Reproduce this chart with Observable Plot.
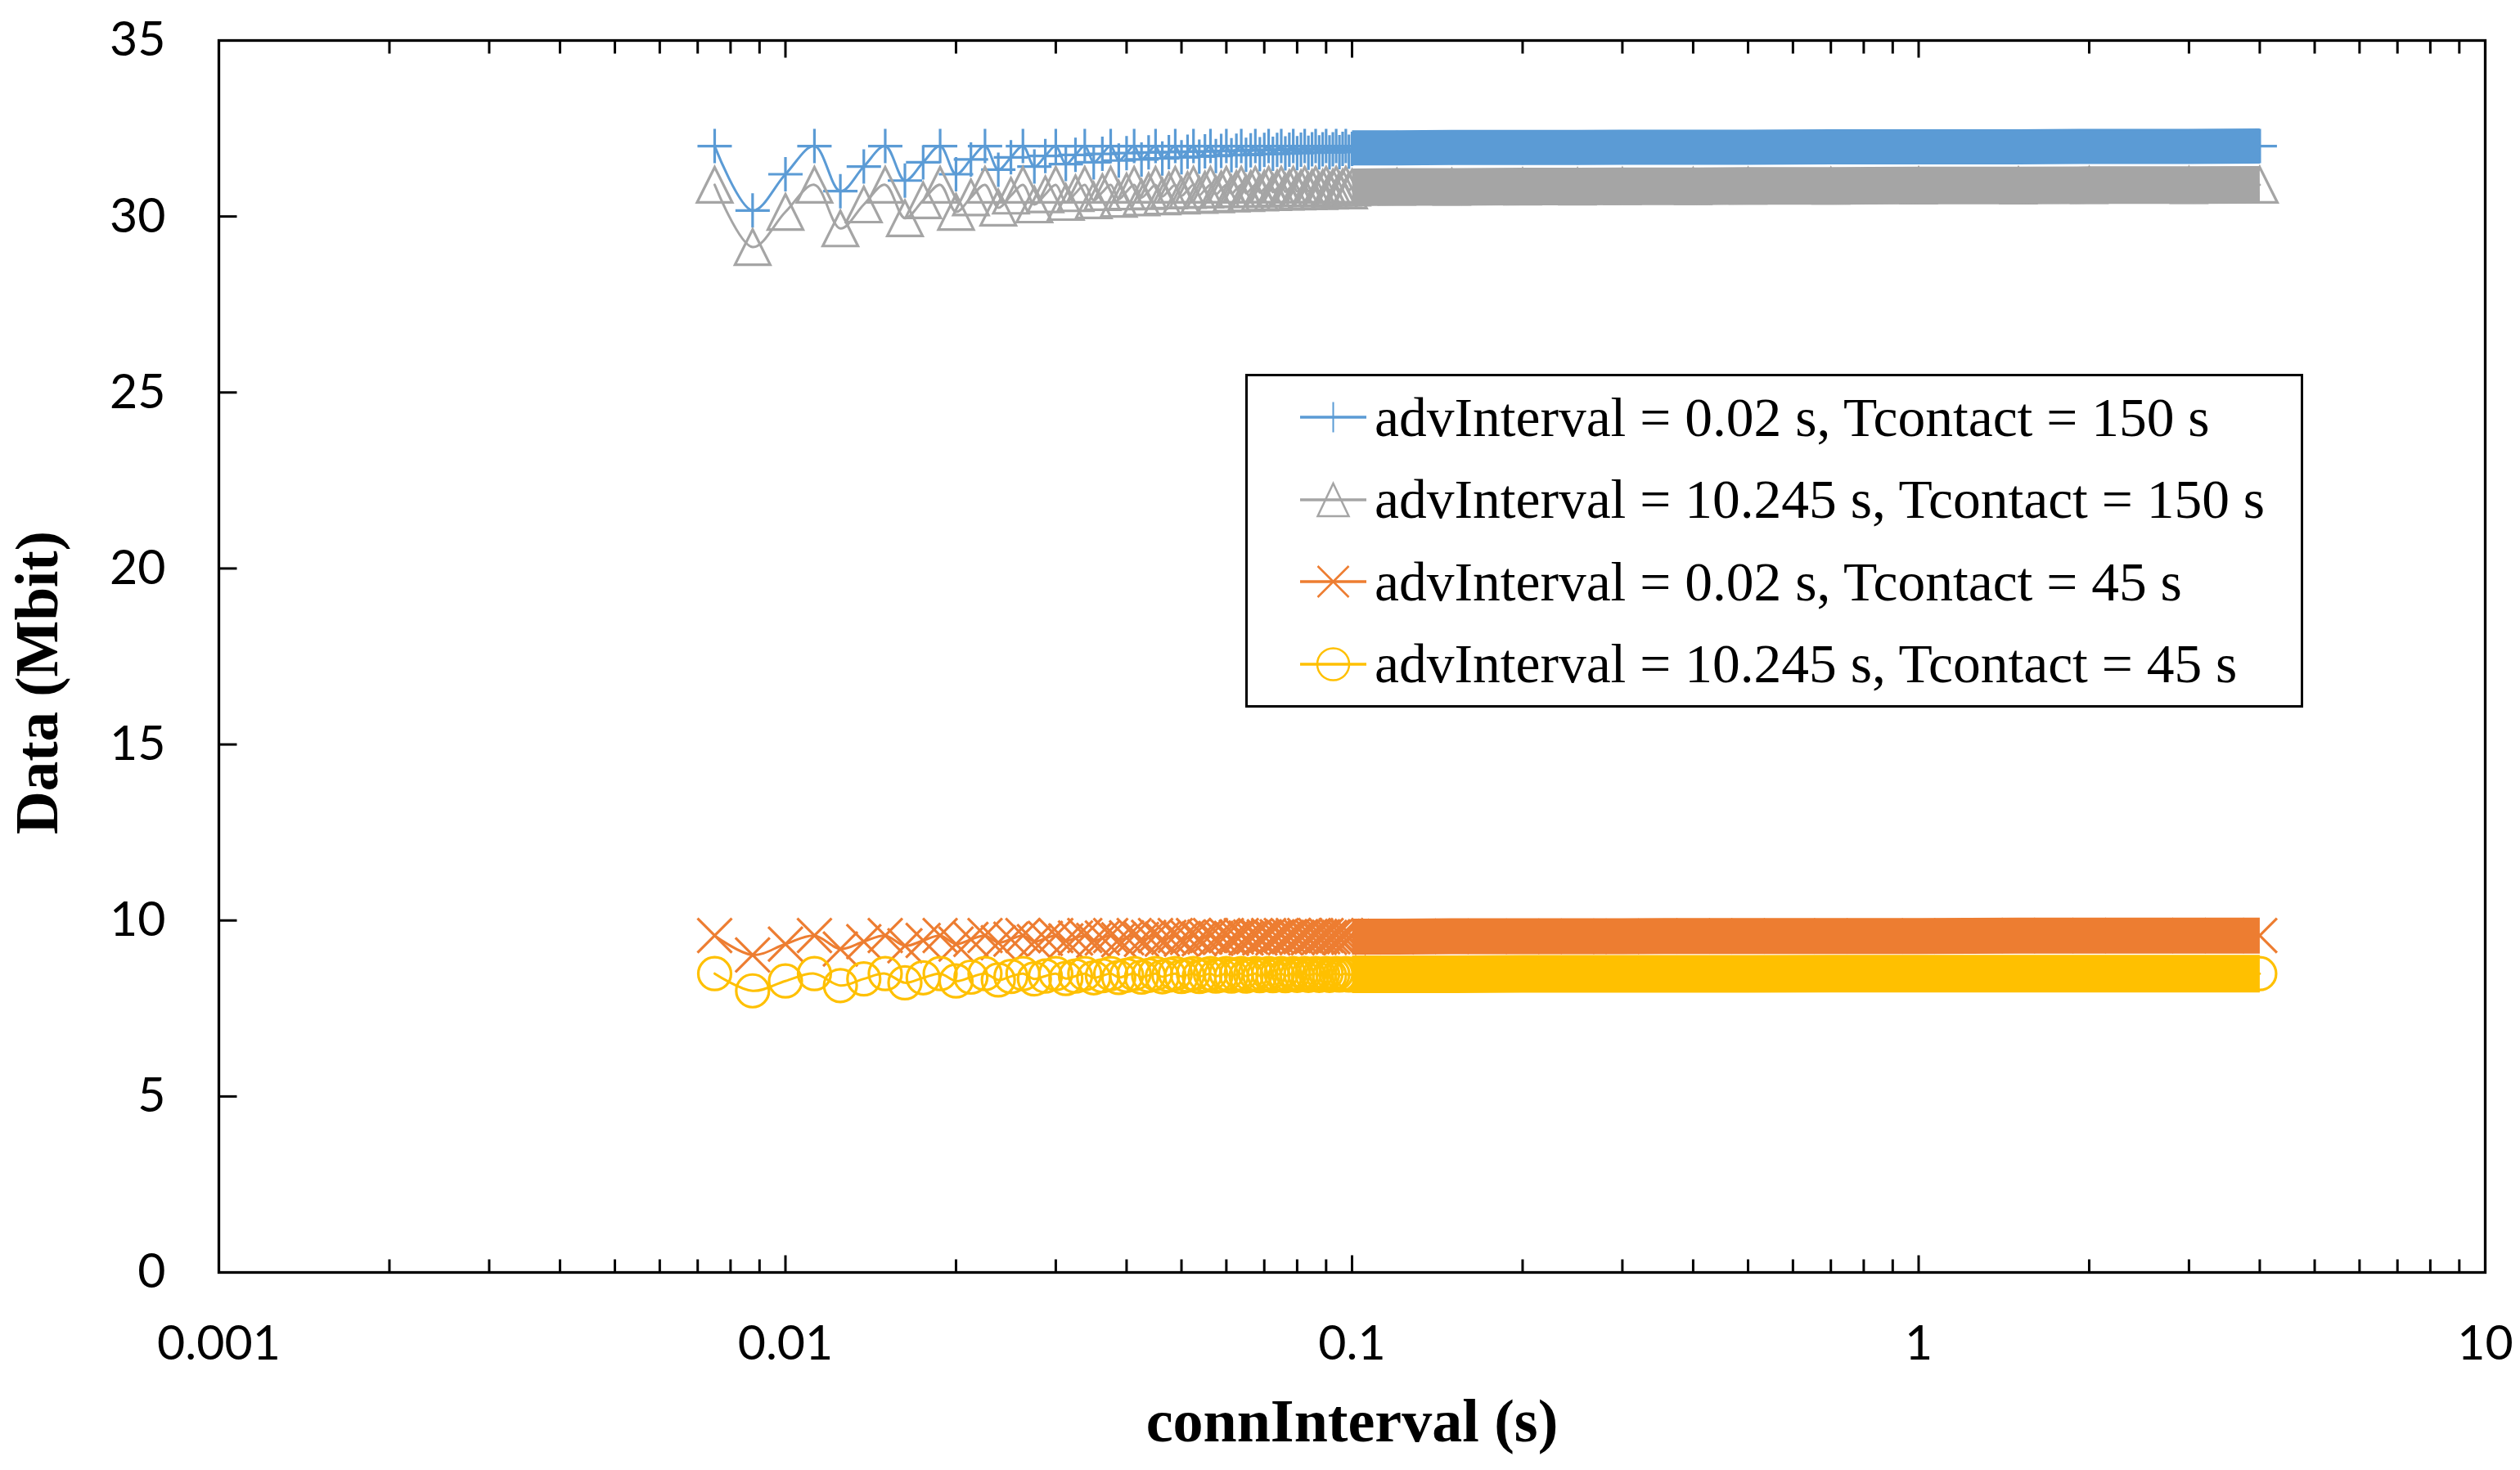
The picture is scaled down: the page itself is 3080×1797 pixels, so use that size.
<!DOCTYPE html>
<html><head><meta charset="utf-8">
<script src="https://cdn.jsdelivr.net/npm/d3@7"></script>
<script src="https://cdn.jsdelivr.net/npm/@observablehq/plot@0.6"></script>
<style>
html,body{margin:0;padding:0;background:#fff;}
#wrap{position:relative;width:3080px;height:1797px;}
#legend{position:absolute;left:1522px;top:457px;width:1293px;height:408px;box-sizing:border-box;border:3px solid #000;background:#fff;display:flex;flex-direction:column;}
.row{flex:1;display:flex;align-items:center;padding-left:64px;}
.row svg{flex:none;display:block;}
.row span{margin-left:10px;font-family:"Liberation Serif","Times New Roman",serif;font-size:67.5px;line-height:1;color:#000;white-space:nowrap;}
</style></head>
<body><div id="wrap"><div id="legend"></div></div>
<script>
// ---------- data ----------
const seriesNames = [
  "advInterval = 0.02 s, Tcontact = 150 s",
  "advInterval = 10.245 s, Tcontact = 150 s",
  "advInterval = 0.02 s, Tcontact = 45 s",
  "advInterval = 10.245 s, Tcontact = 45 s"
];
// connInterval values (ms) of the individually visible points
const connIntervalMs = [7.5, 8.75, 10, 11.25, 12.5, 13.75, 15, 16.25, 17.5, 18.75, 20, 21.25, 22.5, 23.75, 25, 26.25, 27.5, 28.75, 30, 31.25, 32.5, 33.75, 35, 36.25, 37.5, 38.75, 40, 41.25, 42.5, 43.75, 45, 46.25, 47.5, 48.75, 50, 51.25, 52.5, 53.75, 55, 56.25, 57.5, 58.75, 60, 61.25, 62.5, 63.75, 65, 66.25, 67.5, 68.75, 70, 71.25, 72.5, 73.75, 75, 76.25, 77.5, 78.75, 80, 81.25, 82.5, 83.75, 85, 86.25, 87.5, 88.75, 90, 91.25, 92.5, 93.75, 95, 96.25, 97.5, 98.75, 100];
const dataBlue = [32, 30.17, 31.2, 32, 30.72, 31.42, 32, 31.02, 31.54, 32, 31.2, 31.62, 32, 31.33, 31.68, 32, 31.42, 31.72, 32, 31.49, 31.75, 32, 31.54, 31.78, 32, 31.59, 31.8, 32, 31.62, 31.82, 32, 31.65, 31.83, 32, 31.68, 31.84, 32, 31.7, 31.85, 32, 31.72, 31.86, 32, 31.74, 31.87, 32, 31.75, 31.88, 32, 31.77, 31.89, 32, 31.78, 31.89, 32, 31.79, 31.9, 32, 31.8, 31.9, 32, 31.81, 31.91, 32, 31.82, 31.91, 32, 31.82, 31.91, 32, 31.83, 31.92, 32, 31.84, 31.92];
const dataGray = [30.9, 29.13, 30.13, 30.9, 29.66, 30.34, 30.9, 29.95, 30.46, 30.9, 30.13, 30.54, 30.9, 30.25, 30.59, 30.9, 30.34, 30.63, 30.9, 30.41, 30.66, 30.9, 30.46, 30.69, 30.9, 30.5, 30.71, 30.9, 30.54, 30.72, 30.9, 30.57, 30.74, 30.9, 30.59, 30.75, 30.9, 30.61, 30.76, 30.9, 30.63, 30.77, 30.9, 30.65, 30.78, 30.9, 30.66, 30.78, 30.9, 30.68, 30.79, 30.9, 30.69, 30.8, 30.9, 30.7, 30.8, 30.9, 30.71, 30.8, 30.9, 30.72, 30.81, 30.9, 30.72, 30.81, 30.9, 30.73, 30.82, 30.9, 30.74, 30.82, 30.9, 30.74, 30.82];
const dataOrange = [9.57, 9.02, 9.33, 9.57, 9.19, 9.4, 9.57, 9.28, 9.43, 9.57, 9.33, 9.46, 9.57, 9.37, 9.47, 9.57, 9.4, 9.49, 9.57, 9.42, 9.5, 9.57, 9.43, 9.5, 9.57, 9.45, 9.51, 9.57, 9.46, 9.52, 9.57, 9.47, 9.52, 9.57, 9.47, 9.52, 9.57, 9.48, 9.53, 9.57, 9.49, 9.53, 9.57, 9.49, 9.53, 9.57, 9.5, 9.53, 9.57, 9.5, 9.54, 9.57, 9.5, 9.54, 9.57, 9.51, 9.54, 9.57, 9.51, 9.54, 9.57, 9.51, 9.54, 9.57, 9.52, 9.54, 9.57, 9.52, 9.54, 9.57, 9.52, 9.55, 9.57, 9.52, 9.55];
const dataYellow = [8.49, 8.0, 8.28, 8.49, 8.15, 8.34, 8.49, 8.23, 8.37, 8.49, 8.28, 8.39, 8.49, 8.31, 8.41, 8.49, 8.34, 8.42, 8.49, 8.35, 8.42, 8.49, 8.37, 8.43, 8.49, 8.38, 8.44, 8.49, 8.39, 8.44, 8.49, 8.4, 8.45, 8.49, 8.41, 8.45, 8.49, 8.41, 8.45, 8.49, 8.42, 8.45, 8.49, 8.42, 8.46, 8.49, 8.42, 8.46, 8.49, 8.43, 8.46, 8.49, 8.43, 8.46, 8.49, 8.43, 8.46, 8.49, 8.44, 8.46, 8.49, 8.44, 8.47, 8.49, 8.44, 8.47, 8.49, 8.44, 8.47, 8.49, 8.45, 8.47, 8.49, 8.45, 8.47];
// dense part (0.1 s .. 4 s) where the markers merge into a solid band
const connIntervalTail = [0.1, 0.12, 0.15, 0.2, 0.25, 0.3, 0.4, 0.5, 0.7, 1, 1.5, 2, 3, 4];
const tailBlue   = [31.95, 31.95, 31.96, 31.96, 31.96, 31.97, 31.97, 31.97, 31.98, 31.98, 31.98, 31.99, 31.99, 32.0];
const tailGray   = [30.83, 30.84, 30.84, 30.85, 30.85, 30.86, 30.86, 30.87, 30.87, 30.88, 30.88, 30.89, 30.89, 30.9];
const tailOrange = [9.54, 9.54, 9.55, 9.55, 9.55, 9.55, 9.56, 9.56, 9.56, 9.56, 9.57, 9.57, 9.57, 9.57];
const tailYellow = [8.47, 8.47, 8.47, 8.48, 8.48, 8.48, 8.48, 8.48, 8.49, 8.49, 8.49, 8.49, 8.49, 8.49];
// axis ticks
const xTickLabels = [0.001, 0.01, 0.1, 1, 10];
const xMajorTicks = [0.01, 0.1, 1];
const xMinorTicks = [0.002, 0.003, 0.004, 0.005, 0.006, 0.007, 0.008, 0.009, 0.02, 0.03, 0.04, 0.05, 0.06, 0.07, 0.08, 0.09, 0.2, 0.3, 0.4, 0.5, 0.6, 0.7, 0.8, 0.9, 2, 3, 4, 5, 6, 7, 8, 9];
const yTicks = [0, 5, 10, 15, 20, 25, 30, 35];

// ---------- styles ----------
const colors = ["#5B9BD5", "#A5A5A5", "#ED7D31", "#FFC000"];
const rad = s => Math.sqrt(s / Math.PI);
const symPlus = {draw(c, s) { const r = rad(s); c.moveTo(-r, 0); c.lineTo(r, 0); c.moveTo(0, -r); c.lineTo(0, r); }};
const symTri = {draw(c, s) { const r = rad(s); c.moveTo(0, -r); c.lineTo(r, r); c.lineTo(-r, r); c.closePath(); }};
const symX = {draw(c, s) { const r = rad(s); c.moveTo(-r, -r); c.lineTo(r, r); c.moveTo(r, -r); c.lineTo(-r, r); }};
const symCircle = {draw(c, s) { const r = rad(s); c.moveTo(r, 0); c.arc(0, 0, r, 0, 2 * Math.PI); }};
const tickUp = {draw(c, s) { const r = rad(s); c.moveTo(0, 0); c.lineTo(0, -r); }};
const tickDown = {draw(c, s) { const r = rad(s); c.moveTo(0, 0); c.lineTo(0, r); }};
const tickRight = {draw(c, s) { const r = rad(s); c.moveTo(0, 0); c.lineTo(r, 0); }};
const symbols = [symPlus, symTri, symX, symCircle];
const radii = [21, 21.5, 21, 20];
const bandWidths = [43, 46, 44, 46];

const early = connIntervalMs.map(ms => ms / 1000);
const seriesY = [dataBlue, dataGray, dataOrange, dataYellow];
const seriesTail = [tailBlue, tailGray, tailOrange, tailYellow];

const marks = [];
seriesY.forEach((vals, s) => {
  const pts = early.map((x, i) => ({x, y: vals[i]}));
  const tail = connIntervalTail.map((x, i) => ({x, y: seriesTail[s][i]}));
  const all = pts.concat(tail.filter(d => d.x > early[early.length - 1]));
  marks.push(Plot.line(all, {x: "x", y: "y", stroke: colors[s], strokeWidth: 3, curve: "catmull-rom"}));
  marks.push(Plot.dot(all, {x: "x", y: "y", symbol: symbols[s], r: radii[s], stroke: colors[s], fill: "none", strokeWidth: 3.2}));
  marks.push(Plot.line(tail, {x: "x", y: "y", stroke: colors[s], strokeWidth: bandWidths[s], strokeLinecap: "butt", strokeLinejoin: "miter"}));
});

marks.push(
  Plot.dotX(xMajorTicks, {frameAnchor: "bottom", symbol: tickUp, r: 21, stroke: "black", strokeWidth: 3}),
  Plot.dotX(xMinorTicks, {frameAnchor: "bottom", symbol: tickUp, r: 16, stroke: "black", strokeWidth: 3}),
  Plot.dotX(xMajorTicks, {frameAnchor: "top", symbol: tickDown, r: 21, stroke: "black", strokeWidth: 3}),
  Plot.dotX(xMinorTicks, {frameAnchor: "top", symbol: tickDown, r: 16, stroke: "black", strokeWidth: 3}),
  Plot.dotY(yTicks, {frameAnchor: "left", symbol: tickRight, r: 22, stroke: "black", strokeWidth: 3}),
  Plot.frame({stroke: "black", strokeWidth: 3.3}),
  Plot.axisX({ticks: xTickLabels, tickFormat: d => String(d), tickSize: 0, tickPadding: 65, fontSize: 59, fontFamily: "Lato", fill: "black", label: null}),
  Plot.axisY({ticks: yTicks, tickFormat: d => String(d), tickSize: 0, tickPadding: 65, fontSize: 59, fontFamily: "Lato", fill: "black", label: null}),
  Plot.text(["connInterval (s)"], {text: d => d, frameAnchor: "bottom", textAnchor: "middle", dy: 183, lineAnchor: "middle", fontFamily: "Liberation Serif", fontWeight: "bold", fontSize: 74, fill: "black"}),
  Plot.text(["Data (Mbit)"], {text: d => d, frameAnchor: "left", textAnchor: "middle", rotate: -90, dx: -221, dy: 32, lineAnchor: "middle", fontFamily: "Liberation Serif", fontWeight: "bold", fontSize: 73, fill: "black"})
);

const chart = Plot.plot({
  width: 3080, height: 1797,
  marginLeft: 267, marginRight: 43, marginTop: 49, marginBottom: 242,
  x: {type: "log", domain: [0.001, 10], label: null},
  y: {domain: [0, 35], label: null},
  style: {background: "white", fontFamily: "Lato", color: "black"},
  marks
});
document.getElementById("wrap").prepend(chart);

// ---------- legend ----------
const legendShapes = [
  '<path d="M-18.5,0H18.5M0,-18.5V18.5" stroke-width="2"/>',
  '<path d="M0,-20L19,20L-19,20Z" stroke-width="2.5"/>',
  '<path d="M-19,-19L19,19M19,-19L-19,19" stroke-width="2.5"/>',
  '<circle r="19.5" stroke-width="2.5"/>'
];
const legend = document.getElementById("legend");
seriesNames.forEach((name, s) => {
  const row = document.createElement("div");
  row.className = "row";
  row.innerHTML = `<svg width="81" height="60" viewBox="0 0 81 60"><g fill="none" stroke="${colors[s]}"><line x1="0" x2="81" y1="30" y2="30" stroke-width="3.3"/><g transform="translate(40.5,30)">${legendShapes[s]}</g></g></svg><span></span>`;
  row.querySelector("span").textContent = name;
  legend.appendChild(row);
});
</script>
</body></html>
